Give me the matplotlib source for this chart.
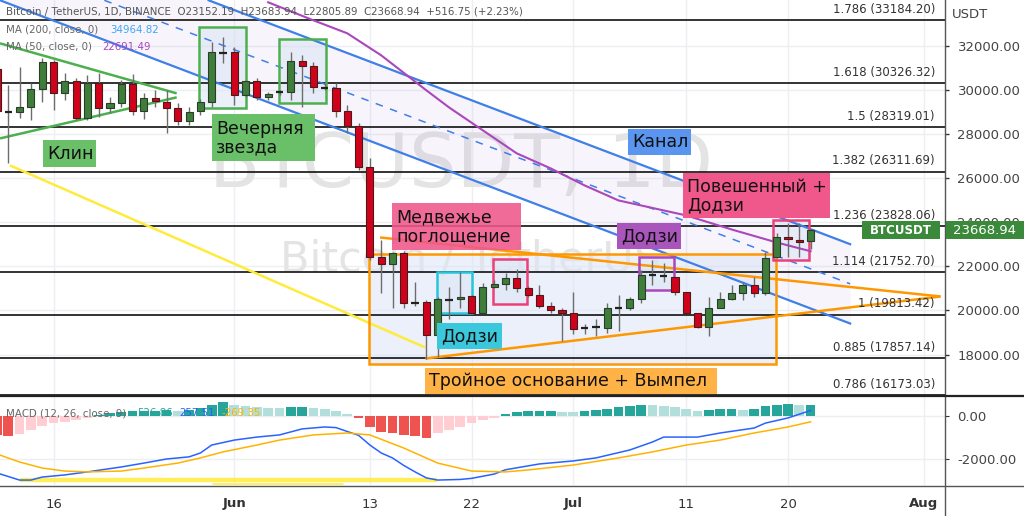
import matplotlib
matplotlib.use("Agg")
import matplotlib.pyplot as plt
from matplotlib.patches import Rectangle
from matplotlib.lines import Line2D
from matplotlib import font_manager
import numpy as np

plt.rcParams['font.family'] = ['DejaVu Sans']

W, H = 1024, 516

# ---------------- data ----------------
opens = [30955, 29045, 29000, 29227, 30045, 31273, 29864, 30409, 28727, 30318,
         29182, 29409, 30273, 29045, 29636, 29455, 29182, 28591, 29045, 29455,
         31727, 31727, 29773, 30409, 29682, 29864, 29909, 31318, 31091, 30136,
         30091, 29045, 28364, 26500, 22409, 22091, 22591, 20364, 20364, 18909,
         20500, 20500, 20636, 19909, 21045, 21182, 21455, 21000, 20682, 20182,
         20045, 19909, 19182, 19227, 19227, 20136, 20136, 20500, 21591, 21545,
         21500, 20818, 19909, 19273, 20136, 20500, 20773, 21136, 20773, 22409,
         23318, 23182, 23152.19]
highs = [31364, 30227, 31045, 30318, 31455, 31364, 30773, 30545, 30682, 30773,
         29682, 30455, 30727, 29864, 30000, 30000, 29409, 29227, 29591, 32182,
         32409, 31955, 30455, 30545, 29909, 30000, 31727, 31591, 31273, 30318,
         30318, 29318, 28500, 26909, 23182, 22636, 22682, 21273, 20455, 20591,
         21045, 21727, 20682, 21227, 21364, 21682, 21864, 21091, 21136, 20364,
         20091, 20818, 19409, 19636, 20318, 20682, 20591, 21818, 22273, 22136,
         21500, 20818, 19909, 20591, 20818, 21136, 21273, 21500, 22636, 23500,
         23955, 23955, 23683.94]
lows = [28864, 26682, 28727, 28636, 29455, 29091, 29545, 28636, 28636, 28773,
        28955, 29227, 28864, 28682, 29227, 28045, 28409, 28409, 28864, 29227,
        31227, 29318, 29682, 29545, 29545, 29773, 29545, 29227, 29864, 30000,
        28773, 28045, 26364, 22300, 20773, 20091, 20136, 20227, 17818, 17909,
        19636, 20091, 19864, 19864, 21000, 20909, 20818, 20591, 20136, 19864,
        18636, 18955, 18955, 18864, 19000, 19091, 20000, 20318, 21136, 21273,
        20682, 19864, 19227, 18864, 20091, 20455, 20455, 20591, 20682, 22364,
        22409, 22409, 22805.89]
closes = [29045, 29000, 29227, 30045, 31273, 29864, 30409, 28727, 30318, 29182,
          29409, 30273, 29045, 29636, 29500, 29182, 28591, 29000, 29455, 31727,
          31700, 29773, 30409, 29682, 29818, 29909, 31318, 31091, 30136, 30091,
          29045, 28364, 26500, 22409, 22091, 22591, 20318, 20340, 18909, 20500,
          20480, 20591, 19909, 21045, 21182, 21455, 21000, 20682, 20227, 20045,
          19909, 19182, 19200, 19240, 20136, 20120, 20500, 21591, 21600, 21560,
          20818, 19909, 19273, 20136, 20500, 20773, 21136, 20773, 22364, 23318,
          23227, 23091, 23668.94]

ma50_idx = [24, 28, 31, 34, 38, 40, 46, 49, 52, 55, 61, 65, 69, 72]
ma50_val = [34000, 33182, 32591, 31591, 30000, 29227, 27137, 26455, 25682,
            25000, 24318, 23682, 23091, 22691.49]

hist = [-900, -930, -840, -650, -470, -330, -260, -190, -100, 30,
        120, 190, 210, 215, 250, 280, 240, 270, 370, 510,
        650, 510, 470, 440, 390, 370, 430, 440, 370, 320,
        230, 90, -110, -500, -730, -800, -880, -910, -1020, -800,
        -650, -520, -320, -180, -70, 90, 200, 210, 215, 220,
        180, 170, 230, 270, 330, 400, 480, 530, 520, 470,
        400, 330, 230, 280, 310, 320, 300, 340, 450, 530,
        540, 520, 526.86]

macd_idx = [0, 2, 3, 4, 6, 8, 11, 13, 15, 17, 18, 19, 21, 23, 25, 27, 29, 30,
            32, 33, 34, 35, 36, 37, 38, 39, 41, 42, 43, 44, 45, 48, 51, 53, 56,
            58, 59, 62, 64, 67, 68, 70, 72]
macd_val = [-2650, -2980, -2980, -2840, -2740, -2600, -2370, -2190, -2000, -1900,
            -1720, -1350, -1120, -980, -880, -600, -510, -540, -900, -1350,
            -1720, -1950, -2300, -2600, -2880, -2980, -2950, -2900, -2800, -2700,
            -2500, -2230, -2090, -1950, -1580, -1210, -980, -980, -790, -560,
            -330, -90, 257.51]
sig_idx = [0, 2, 4, 6, 8, 11, 13, 16, 18, 20, 23, 25, 28, 31, 33, 36, 39, 42,
           45, 47, 51, 55, 58, 61, 64, 67, 70, 72]
sig_val = [-1770, -2140, -2420, -2560, -2600, -2560, -2420, -2190, -1950, -1670,
           -1350, -1120, -880, -790, -880, -1490, -2190, -2560, -2600, -2510,
           -2280, -1950, -1670, -1350, -1120, -790, -510, -269.35]

fib_ratios = ['1.786', '1.618', '1.5', '1.382', '1.236', '1.114', '1', '0.885', '0.786']
fib_prices = [33184.20, 30326.32, 28319.01, 26311.69, 23828.06, 21752.70,
              19813.42, 17857.14, 16173.03]

price_ticks = [18000, 20000, 22000, 24000, 26000, 28000, 30000, 32000]
macd_ticks = [0, -2000]
date_pos = [5, 21, 33, 42, 51, 61, 70, 82]
date_labels = ['16', 'Jun', '13', '22', 'Jul', '11', '20', 'Aug']
date_bold = [False, True, False, False, True, False, False, True]

# drawings (day index, price)
channel_lower = [(0.27, 34091), (75.5, 19409)]
channel_upper = [(18.73, 34091), (75.5, 23013)]
channel_mid = [(9.5, 34091), (75.5, 21211)]
wedge_upper = [(0.27, 32136), (15.9, 29864)]
wedge_lower = [(0.27, 27818), (15.9, 29682)]
yellow_line = [(1.15, 26591), (37.9, 18318)]
pennant_upper = [(33.9, 23318), (83.5, 20636)]
pennant_lower = [(37.9, 17818), (83.5, 20636)]

rects = [  # x0, p0, x1, p1, edge colour
    (17.9, 29182, 22.0, 32864, '#4caf50'),
    (24.96, 29409, 29.1, 32318, '#4caf50'),
    (32.9, 17591, 68.9, 22545, '#ff9800'),
    (38.9, 19864, 42.0, 21727, '#26c6da'),
    (43.9, 20273, 46.9, 22318, '#ec407a'),
    (56.8, 20909, 59.9, 22409, '#ab47bc'),
    (68.7, 22273, 71.9, 24091, '#ec407a'),
]
labels = [  # x0, p0, x1, p1, text, colour
    (4.07, 26500, 8.76, 27728, 'Клин', '#6abf69'),
    (19.03, 26773, 28.14, 28910, 'Вечерняя\nзвезда', '#6abf69'),
    (55.84, 27046, 61.42, 28228, 'Канал', '#5a96f0'),
    (34.96, 22728, 46.37, 24864, 'Медвежье\nпоглощение', '#f0578a'),
    (54.87, 22773, 60.53, 23955, 'Додзи', '#aa55bb'),
    (60.71, 24183, 73.72, 26228, 'Повешенный +\nДодзи', '#f0578a'),
    (38.94, 18229, 44.69, 19410, 'Додзи', '#3cc8dc'),
    (37.88, 16229, 63.72, 17410, 'Тройное основание + Вымпел', '#ffb347'),
]

# ---------------- figure ----------------
fig = plt.figure(figsize=(W / 100, H / 100), dpi=100)
fig.patch.set_facecolor('white')
XL = (3 / 11.3, 948 / 11.3)

ax = fig.add_axes([0, 1 - 396 / H, 945 / W, 396 / H])
ax2 = fig.add_axes([0, 1 - 485 / H, 945 / W, 88 / H])
for a in (ax, ax2):
    a.set_xlim(*XL)
    a.set_facecolor('white')
    for s in a.spines.values():
        s.set_visible(False)
ax.set_ylim(16116, 34105)
ax2.set_ylim(-3209, 884)

# grids
for a in (ax, ax2):
    a.set_xticks(date_pos)
    for xp in date_pos:
        a.axvline(xp, color='#eceff4', lw=1, zorder=0)
for p in price_ticks:
    ax.axhline(p, color='#eceff4', lw=1, zorder=0)
for p in macd_ticks:
    ax2.axhline(p, color='#eceff4', lw=1, zorder=0)

# watermark
names = {f.name for f in font_manager.fontManager.ttflist}
wm_family = 'Liberation Sans Narrow' if 'Liberation Sans Narrow' in names else 'DejaVu Sans'
wm_size = 72 if wm_family != 'DejaVu Sans' else 54
ax.text(41.07, 25600, 'BTCUSDT, 1D', fontsize=wm_size, family=wm_family, color='#e4e4e4',
        ha='center', va='baseline', zorder=0.2)
ax.text(41.9, 21750, 'Bitcoin / TetherUS', fontsize=31, color='#e4e4e4', ha='center',
        va='baseline', zorder=0.2)

# channel
xs = np.array([channel_lower[0][0], channel_lower[1][0]])
lo = np.array([channel_lower[0][1], channel_lower[1][1]])
slope = (channel_upper[1][1] - channel_upper[0][1]) / (channel_upper[1][0] - channel_upper[0][0])
up = channel_upper[1][1] + slope * (xs - channel_upper[1][0])
ax.fill_between(xs, lo, up, color='#7e57c2', alpha=0.06, lw=0, zorder=0.5)
for ln in (channel_lower, channel_upper):
    ax.plot([ln[0][0], ln[1][0]], [ln[0][1], ln[1][1]], color='#3f7fe8', lw=1.6, zorder=3)
ax.plot([channel_mid[0][0], channel_mid[1][0]], [channel_mid[0][1], channel_mid[1][1]],
        color='#3f7fe8', lw=1.1, ls=(0, (5, 5)), zorder=3)

# rectangles
for x0, p0, x1, p1, ec in rects:
    ax.add_patch(Rectangle((x0, p0), x1 - x0, p1 - p0, facecolor='#dbe4f6', alpha=0.55,
                           edgecolor='none', zorder=1))
    ax.add_patch(Rectangle((x0, p0), x1 - x0, p1 - p0, facecolor='none',
                           edgecolor=ec, lw=1.8, zorder=3.2))

# fib lines
for p in fib_prices:
    ax.axhline(p, color='#111111', lw=1.2, zorder=2)

# trend lines
for ln, c in ((wedge_upper, '#4caf50'), (wedge_lower, '#4caf50'), (yellow_line, '#ffeb3b'),
              (pennant_upper, '#ff9800'), (pennant_lower, '#ff9800')):
    ax.plot([ln[0][0], ln[1][0]], [ln[0][1], ln[1][1]], color=c, lw=1.8, zorder=3.1,
            solid_capstyle='butt')

# MA 50
ax.plot(ma50_idx, ma50_val, color='#ab47bc', lw=1.5, zorder=3.3)

# candles
idx = np.arange(len(opens))
o = np.array(opens); c = np.array(closes); hi = np.array(highs); lw_ = np.array(lows)
up_mask = c >= o
ax.vlines(idx, lw_, hi, color='#6d6d6d', lw=1, zorder=4)
body_lo = np.minimum(o, c)
body_h = np.abs(c - o)
big = body_h > 45
ax.bar(idx[big & up_mask], body_h[big & up_mask], bottom=body_lo[big & up_mask], width=0.62,
       color='#3f7d3a', edgecolor='#2a3d2a', lw=0.8, zorder=5)
ax.bar(idx[big & ~up_mask], body_h[big & ~up_mask], bottom=body_lo[big & ~up_mask], width=0.62,
       color='#d0021b', edgecolor='#4a1a1a', lw=0.8, zorder=5)
ax.hlines(c[~big], idx[~big] - 0.33, idx[~big] + 0.33, color='#222222', lw=1.6, zorder=5)

# labels boxes
for x0, p0, x1, p1, txt, col in labels:
    ax.add_patch(Rectangle((x0, p0), x1 - x0, p1 - p0, facecolor=col,
                           alpha=0.88 if 'Медв' in txt else 1.0, edgecolor='none', zorder=6))
    ax.text(x0 + 0.35, (p0 + p1) / 2, txt, fontsize=12.5, color='#111111', ha='left',
            va='center', linespacing=1.05, zorder=7)

# fib labels
for r, p in zip(fib_ratios, fib_prices):
    ax.annotate(f'{r} ({p:.2f})', (83.0, p), xytext=(0, 3), textcoords='offset points',
                ha='right', va='bottom', fontsize=8.5, color='#333333', zorder=7)

# axes ticks
ax.yaxis.tick_right()
ax.set_yticks(price_ticks)
ax.set_yticklabels([f'{p:.2f}' for p in price_ticks])
ax.tick_params(axis='y', length=3, width=1, color='#333333', pad=6, labelsize=9.5,
               labelcolor='#444444')
ax.tick_params(axis='x', length=0, labelbottom=False)

# MACD pane
hcol = []
prev = 0
for v in hist:
    if v >= 0:
        hcol.append('#26a69a' if v >= prev else '#b2dfdb')
    else:
        hcol.append('#ef5350' if v < prev else '#ffcdd2')
    prev = v
ax2.bar(idx, hist, width=0.86, color=hcol, zorder=2)
ax2.plot(macd_idx, macd_val, color='#2962ff', lw=1.1, zorder=3)
ax2.plot(sig_idx, sig_val, color='#ffb300', lw=1.1, zorder=3)
ax2.plot([2.0, 38.9], [-2977, -2977], color='#ffeb3b', lw=3.2, alpha=0.85, zorder=2.5,
         solid_capstyle='butt')
ax2.plot([19.0, 30.6], [-3163, -3163], color='#ffeb3b', lw=2.0, alpha=0.85, zorder=2.5,
         solid_capstyle='butt')
ax2.yaxis.tick_right()
ax2.set_yticks(macd_ticks)
ax2.set_yticklabels([f'{v:.2f}' for v in macd_ticks])
ax2.tick_params(axis='y', length=3, color='#333333', pad=6, labelsize=9.5, labelcolor='#444444')
ax2.set_xticks(date_pos)
ax2.set_xticklabels(date_labels)
ax2.tick_params(axis='x', length=0, pad=9, labelsize=9.5, labelcolor='#333333')
for t, b in zip(ax2.get_xticklabels(), date_bold):
    if b:
        t.set_fontweight('bold')

# frame lines (figure pixels)
def fx(x): return x / W
def fy(y): return 1 - y / H
fig.add_artist(Line2D([fx(945), fx(945)], [0, 1], color='#555555', lw=1))
fig.add_artist(Line2D([0, 1], [fy(396), fy(396)], color='#222222', lw=1.6))
fig.add_artist(Line2D([0, 1], [fy(485.5), fy(485.5)], color='#555555', lw=1))

# legends
fs_leg = 7.4
fig.text(fx(6), fy(12), 'Bitcoin / TetherUS, 1D, BINANCE  O23152.19  H23683.94  L22805.89  '
         'C23668.94  +516.75 (+2.23%)', fontsize=fs_leg, color='#555555', va='center')
fig.text(fx(6), fy(30), 'MA (200, close, 0)', fontsize=fs_leg, color='#666666', va='center')
fig.text(fx(110), fy(30), '34964.82', fontsize=fs_leg, color='#42a5f5', va='center')
fig.text(fx(6), fy(47), 'MA (50, close, 0)', fontsize=fs_leg, color='#666666', va='center')
fig.text(fx(102), fy(47), '22691.49', fontsize=fs_leg, color='#ab47bc', va='center')
fig.text(fx(6), fy(413), 'MACD (12, 26, close, 9)', fontsize=fs_leg, color='#666666',
         va='center', zorder=10)
fig.text(fx(137), fy(413), '526.86', fontsize=fs_leg, color='#26a69a', va='center', zorder=10)
fig.text(fx(179), fy(413), '257.51', fontsize=fs_leg, color='#2962ff', va='center', zorder=10)
fig.text(fx(221), fy(413), '-269.35', fontsize=fs_leg, color='#ffb300', va='center', zorder=10)
fig.text(fx(952), fy(15), 'USDT', fontsize=9.5, color='#444444', va='center')

# last price tags
py = 46.7 + (32000 - closes[-1]) * 0.022025
fig.add_artist(Rectangle((fx(862), fy(py + 9)), (940 - 862) / W, 18 / H, transform=fig.transFigure,
                         facecolor='#3b8a3b', edgecolor='none', zorder=8))
fig.text(fx(901), fy(py), 'BTCUSDT', fontsize=8.5, color='white', weight='bold', ha='center',
         va='center', zorder=9)
fig.add_artist(Rectangle((fx(946), fy(py + 9)), (1024 - 946) / W, 18 / H, transform=fig.transFigure,
                         facecolor='#3b8a3b', edgecolor='none', zorder=8))
fig.text(fx(985), fy(py), f'{closes[-1]:.2f}', fontsize=9.5, color='white', ha='center',
         va='center', zorder=9)

fig.savefig('out.png', dpi=100)
